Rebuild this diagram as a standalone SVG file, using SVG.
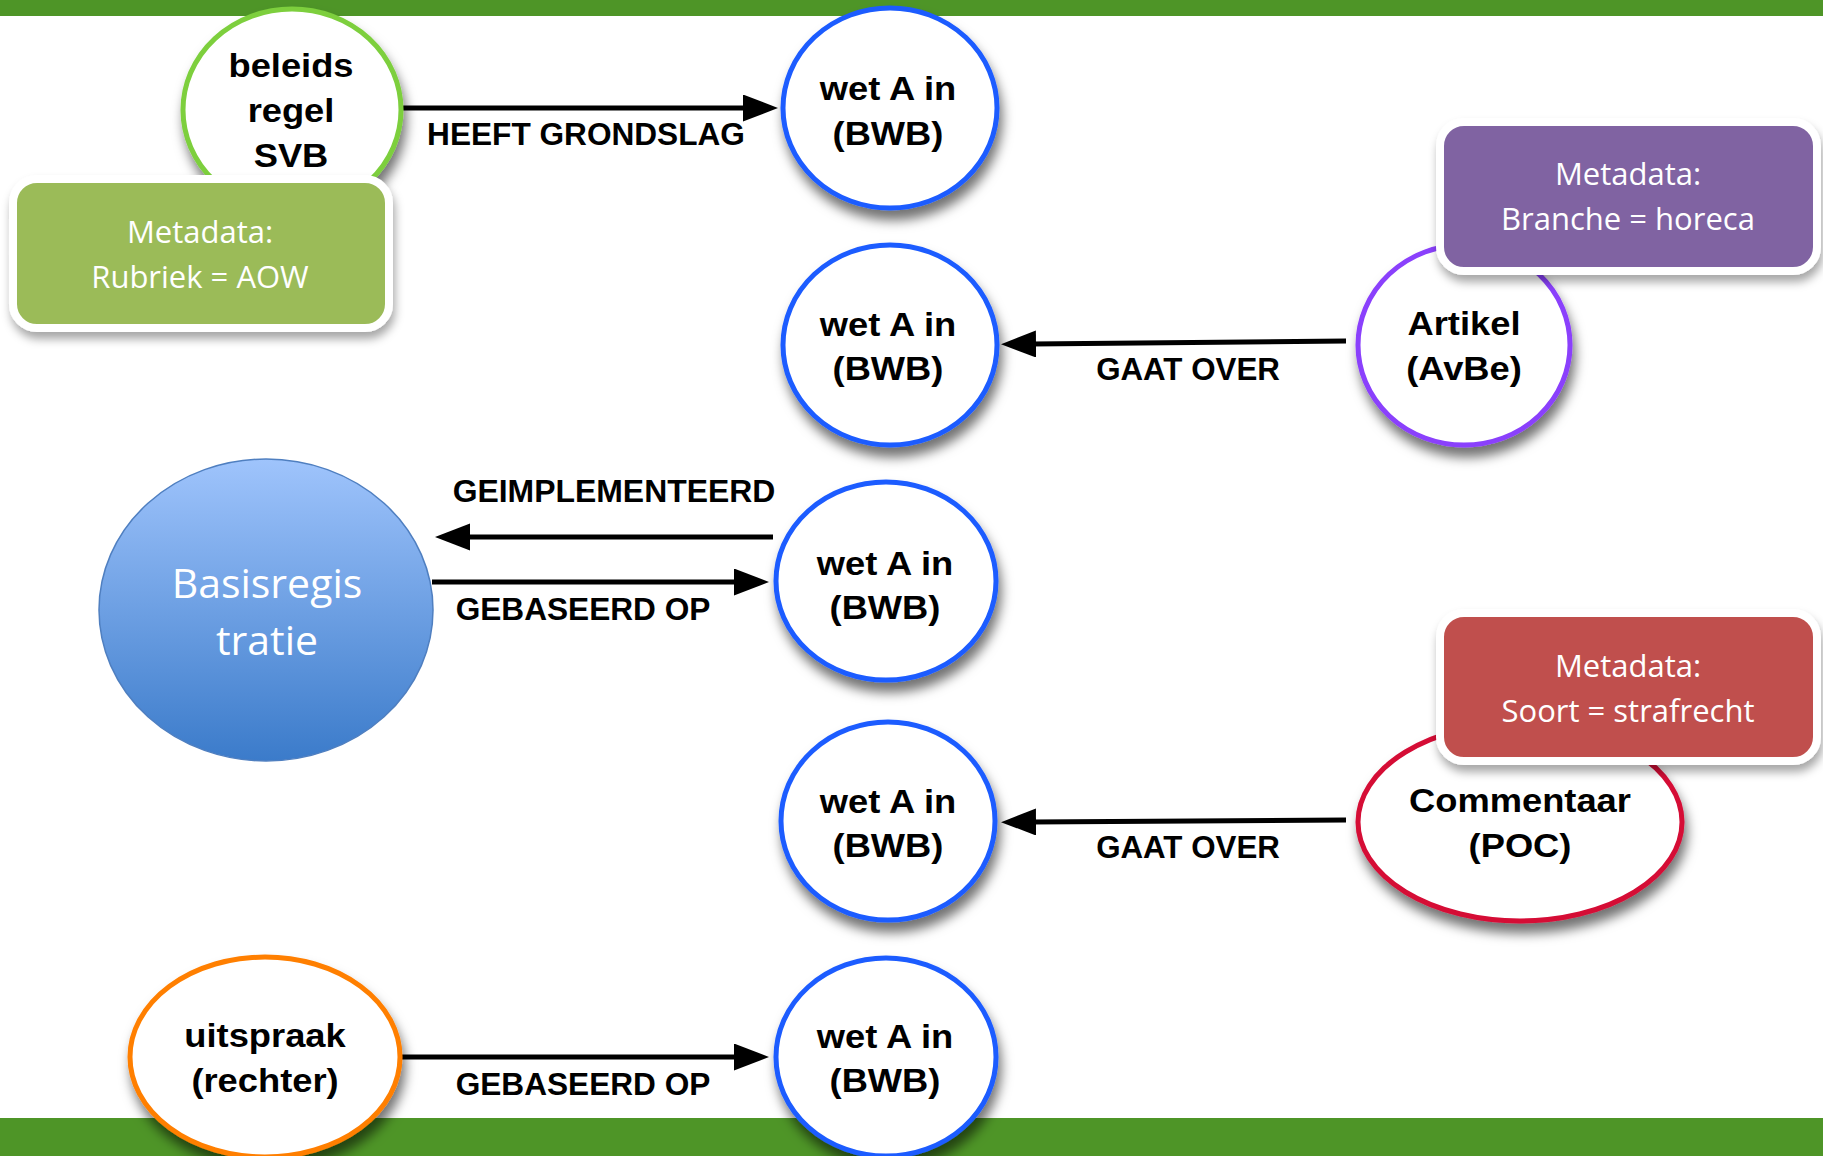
<svg xmlns="http://www.w3.org/2000/svg" width="1823" height="1156" viewBox="0 0 1823 1156">
<defs>
<filter id="sh" x="-30%" y="-30%" width="160%" height="170%">
<feDropShadow dx="3" dy="10" stdDeviation="6" flood-color="#000" flood-opacity="0.55"/>
</filter>
<filter id="shb" x="-20%" y="-20%" width="140%" height="150%">
<feDropShadow dx="2" dy="7" stdDeviation="5" flood-color="#000" flood-opacity="0.35"/>
</filter>
<linearGradient id="blue" x1="0" y1="0" x2="0" y2="1">
<stop offset="0" stop-color="#9fc4fc"/>
<stop offset="1" stop-color="#3b7bca"/>
</linearGradient>
<marker id="ah" markerUnits="userSpaceOnUse" markerWidth="36" markerHeight="28" refX="4" refY="13.5" orient="auto">
<path d="M0,0 L35,13.5 L0,27 z" fill="#000"/>
</marker>
</defs>
<style>
.bar{fill:#4e9527}
.node{fill:#fff;stroke-width:5;filter:url(#sh)}
.wet{stroke:#1d5cff}
.nt{font-family:"Liberation Sans",Arial,sans-serif;font-weight:bold;font-size:33px;fill:#000;text-anchor:middle}
.lbl{font-family:"Liberation Sans",Arial,sans-serif;font-weight:bold;font-size:31px;fill:#000;text-anchor:middle}
.conn line{stroke:#000;stroke-width:5;marker-end:url(#ah)}
.meta rect{stroke:#fff;stroke-width:8;filter:url(#shb)}
.mt{font-family:"Open Sans","Noto Sans",sans-serif;font-size:31px;fill:#fff;text-anchor:middle}
.bt{font-family:"Open Sans","Noto Sans",sans-serif;font-size:41px;fill:#fff;text-anchor:middle}
</style>
<rect width="1823" height="1156" fill="#fff"/>
<rect class="bar" x="0" y="0" width="1823" height="16"/>
<rect class="bar" x="0" y="1118" width="1823" height="38"/>

<g id="connectors" class="conn">
<line x1="403" y1="108" x2="747" y2="108"/>
<line x1="1346" y1="341" x2="1032" y2="344"/>
<line x1="773" y1="537" x2="466" y2="537"/>
<line x1="432" y1="582" x2="738" y2="582"/>
<line x1="1346" y1="820" x2="1032" y2="822"/>
<line x1="402" y1="1057" x2="738" y2="1057"/>
<text class="lbl" transform="translate(586 145) scale(1.02 1)">HEEFT GRONDSLAG</text>
<text class="lbl" transform="translate(1188 380) scale(1.01 1)">GAAT OVER</text>
<text class="lbl" transform="translate(614 502) scale(1.03 1)">GEIMPLEMENTEERD</text>
<text class="lbl" transform="translate(583 620) scale(1.02 1)">GEBASEERD OP</text>
<text class="lbl" transform="translate(1188 858) scale(1.01 1)">GAAT OVER</text>
<text class="lbl" transform="translate(583 1095) scale(1.02 1)">GEBASEERD OP</text>
</g>

<g id="beleidsregel">
<ellipse class="node" cx="292" cy="110" rx="109" ry="101" stroke="#7dcf3e"/>
<text class="nt" transform="translate(291 0) scale(1.1 1)"><tspan x="0" y="77">beleids</tspan><tspan x="0" y="122">regel</tspan><tspan x="0" y="167">SVB</tspan></text>
</g>
<g id="meta-rubriek" class="meta">
<rect x="13" y="179" width="376" height="149" rx="24" fill="#9bbb59"/>
<text class="mt" x="200" y="243">Metadata:</text>
<text class="mt" x="200" y="288">Rubriek = AOW</text>
</g>

<g id="wet1">
<ellipse class="node wet" cx="890" cy="108" rx="107" ry="100"/>
<text class="nt" transform="translate(888 0) scale(1.1 1)"><tspan x="0" y="100">wet A in</tspan><tspan x="0" y="145">(BWB)</tspan></text>
</g>
<g id="wet2">
<ellipse class="node wet" cx="890" cy="345" rx="107" ry="100"/>
<text class="nt" transform="translate(888 0) scale(1.1 1)"><tspan x="0" y="336">wet A in</tspan><tspan x="0" y="380">(BWB)</tspan></text>
</g>
<g id="artikel">
<ellipse class="node" cx="1464" cy="345" rx="106" ry="100" stroke="#8a3ffc"/>
<text class="nt" transform="translate(1464 0) scale(1.1 1)"><tspan x="0" y="335">Artikel</tspan><tspan x="0" y="380">(AvBe)</tspan></text>
</g>
<g id="meta-branche" class="meta">
<rect x="1440" y="122" width="377" height="149" rx="24" fill="#8064a2"/>
<text class="mt" x="1628" y="185">Metadata:</text>
<text class="mt" x="1628" y="230">Branche = horeca</text>
</g>

<g id="basisregistratie">
<ellipse cx="266" cy="610" rx="167" ry="151" fill="url(#blue)" stroke="#4f7fc0" stroke-width="1.5"/>
<text class="bt" x="267" y="598">Basisregis</text>
<text class="bt" x="267" y="655">tratie</text>
</g>

<g id="wet3">
<ellipse class="node wet" cx="886" cy="581" rx="110" ry="99"/>
<text class="nt" transform="translate(885 0) scale(1.1 1)"><tspan x="0" y="575">wet A in</tspan><tspan x="0" y="619">(BWB)</tspan></text>
</g>
<g id="wet4">
<ellipse class="node wet" cx="888" cy="821" rx="107" ry="99"/>
<text class="nt" transform="translate(888 0) scale(1.1 1)"><tspan x="0" y="813">wet A in</tspan><tspan x="0" y="857">(BWB)</tspan></text>
</g>
<g id="commentaar">
<ellipse class="node" cx="1520" cy="822" rx="162" ry="99" stroke="#d50a36"/>
<text class="nt" transform="translate(1520 0) scale(1.1 1)"><tspan x="0" y="812">Commentaar</tspan><tspan x="0" y="857">(POC)</tspan></text>
</g>
<g id="meta-soort" class="meta">
<rect x="1440" y="613" width="377" height="148" rx="24" fill="#c0504d"/>
<text class="mt" x="1628" y="677">Metadata:</text>
<text class="mt" x="1628" y="722">Soort = strafrecht</text>
</g>

<g id="uitspraak">
<ellipse class="node" cx="265" cy="1057" rx="135" ry="100" stroke="#ff7f00"/>
<text class="nt" transform="translate(265 0) scale(1.1 1)"><tspan x="0" y="1047">uitspraak</tspan><tspan x="0" y="1092">(rechter)</tspan></text>
</g>
<g id="wet5">
<ellipse class="node wet" cx="886" cy="1057" rx="110" ry="99"/>
<text class="nt" transform="translate(885 0) scale(1.1 1)"><tspan x="0" y="1048">wet A in</tspan><tspan x="0" y="1092">(BWB)</tspan></text>
</g>
</svg>
